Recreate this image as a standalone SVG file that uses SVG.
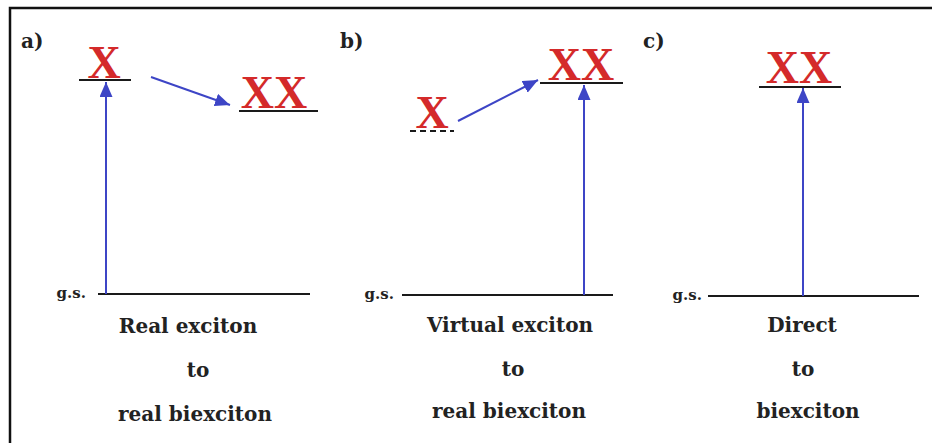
<svg xmlns="http://www.w3.org/2000/svg" width="932" height="443" viewBox="0 0 932 443">
<defs>
<marker id="ah" markerUnits="userSpaceOnUse" markerWidth="16" markerHeight="14" refX="15" refY="6.5" orient="auto">
<path d="M0,0 L15,6.5 L0,13 z" fill="#3d45c6"/>
</marker>
<style>
.lvl{stroke:#1a1a1a;stroke-width:2.2;fill:none}
.arr{stroke:#3d45c6;stroke-width:2;fill:none;marker-end:url(#ah)}
.sp{font-family:"Liberation Serif",serif;font-weight:bold;font-size:46px;fill:#d42a2a;text-anchor:middle}
.lab{font-family:"DejaVu Serif",serif;font-weight:bold;font-size:20px;fill:#222;text-anchor:middle}
.gs{font-family:"DejaVu Serif",serif;font-weight:bold;font-size:15px;fill:#222;text-anchor:end}
.pl{font-family:"DejaVu Serif",serif;font-weight:bold;font-size:20px;fill:#222}
</style>
</defs>
<rect width="932" height="443" fill="#ffffff"/>
<path d="M10,443 L10,8 L932,8" stroke="#111" stroke-width="2.5" fill="none"/>

<g id="panel-a">
<text class="pl" x="21" y="48">a)</text>
<g id="a-X"><text class="sp" x="104" y="78">X</text><line class="lvl" x1="79" y1="80" x2="131" y2="80"/></g>
<g id="a-XX"><text class="sp" x="274" y="108">XX</text><line class="lvl" x1="239" y1="111" x2="318" y2="111"/></g>
<g id="a-gs"><text class="gs" x="86" y="298">g.s.</text><line class="lvl" x1="98" y1="294" x2="310" y2="294"/></g>
<g id="a-caption">
<text class="lab" x="188" y="333">Real exciton</text>
<text class="lab" x="198" y="377">to</text>
<text class="lab" x="195" y="421">real biexciton</text>
</g>
</g>

<g id="panel-b">
<text class="pl" x="340" y="48">b)</text>
<g id="b-X"><text class="sp" x="432" y="128">X</text><line class="lvl" x1="410" y1="131" x2="454" y2="131" stroke-dasharray="6,4"/></g>
<g id="b-XX"><text class="sp" x="581" y="80">XX</text><line class="lvl" x1="540" y1="83" x2="623" y2="83"/></g>
<g id="b-gs"><text class="gs" x="394" y="299">g.s.</text><line class="lvl" x1="402" y1="295" x2="613" y2="295"/></g>
<g id="b-caption">
<text class="lab" x="510" y="332">Virtual exciton</text>
<text class="lab" x="513" y="376">to</text>
<text class="lab" x="509" y="418">real biexciton</text>
</g>
</g>

<g id="panel-c">
<text class="pl" x="643" y="48">c)</text>
<g id="c-XX"><text class="sp" x="799" y="83">XX</text><line class="lvl" x1="759" y1="87" x2="841" y2="87"/></g>
<g id="c-gs"><text class="gs" x="702" y="300">g.s.</text><line class="lvl" x1="708" y1="296" x2="919" y2="296"/></g>
<g id="c-caption">
<text class="lab" x="802" y="332">Direct</text>
<text class="lab" x="803" y="376">to</text>
<text class="lab" x="808" y="418">biexciton</text>
</g>
</g>

<g id="connectors">
<line class="arr" x1="106" y1="294" x2="106" y2="82"/>
<line class="arr" x1="151" y1="77" x2="230" y2="105"/>
<line class="arr" x1="458" y1="121" x2="538" y2="80"/>
<line class="arr" x1="584" y1="295" x2="584" y2="85"/>
<line class="arr" x1="803" y1="296" x2="803" y2="88"/>
</g>
</svg>
